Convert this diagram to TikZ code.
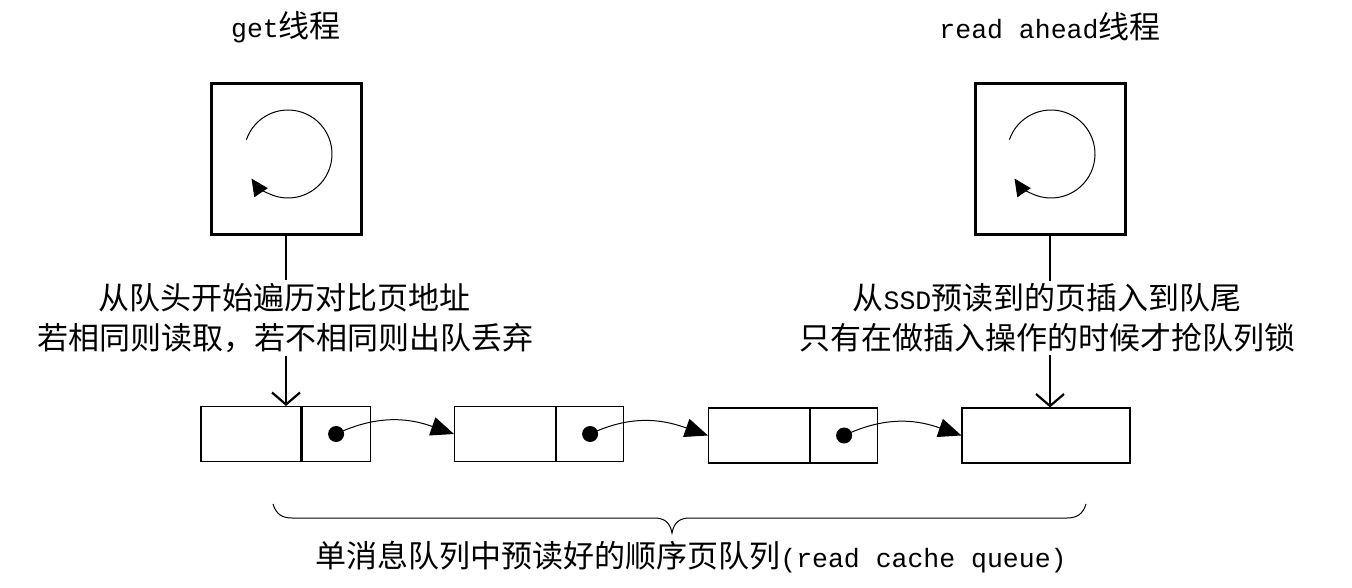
\documentclass[tikz,border=0pt]{standalone}
\usepackage{fontspec}
\setmainfont{Noto Sans CJK SC}
\newfontfamily\latfont{Liberation Mono}
\newcommand\latx[1]{{\latfont\fontsize{26.5}{40}\selectfont #1}}
\usetikzlibrary{arrows.meta}
\tikzset{
  thread/.style={draw, line width=3pt, minimum width=150pt, minimum height=151pt, inner sep=0pt},
  cell/.style={draw, line width=1.1pt, minimum height=55pt, inner sep=0pt},
  dot/.style={circle, fill=black, minimum size=16pt, inner sep=0pt},
  lbl/.style={font=\fontsize{31}{40}\selectfont, align=center, fill=white, inner sep=3pt},
  title/.style={font=\fontsize{31}{40}\selectfont, inner sep=0pt},
  loopline/.style={line width=1pt, -{Triangle[length=17pt,width=16pt]}},
  down/.style={line width=2.2pt, -{Straight Barb[length=12pt,width=28pt]}},
  link/.style={line width=1pt, -{Triangle[length=23pt,width=19pt]}, shorten <=-2pt},
}
\begin{document}
\begin{tikzpicture}[x=1pt,y=-1pt]
\useasboundingbox[fill=white] (0,0) rectangle (1352,588);

% titles
\node[title] (h1) at (286,27) {\latx{get}线程};
\node[title] (h2) at (1050,27) {\latx{read ahead}线程};

% thread boxes
\node[thread] (t1) at (286,159) {};
\node[thread] (t2) at (1050,159) {};
\draw[loopline] ([shift={(2,-5)}]t1.center) ++(-161:44) arc[start angle=-161, end angle=146, radius=44];
\draw[loopline] ([shift={(1,-5)}]t2.center) ++(-161:44) arc[start angle=-161, end angle=146, radius=44];

% list cells
\node[cell, minimum width=100pt] (n1d) at (251,434) {};
\node[cell, minimum width=68pt, anchor=west] (n1p) at (n1d.east) {};
\node[cell, minimum width=101pt] (n2d) at (505,434) {};
\node[cell, minimum width=67pt, anchor=west] (n2p) at (n2d.east) {};
\node[cell, minimum width=101pt] (n3d) at (759,435.5) {};
\node[cell, minimum width=67pt, anchor=west] (n3p) at (n3d.east) {};
\node[cell, minimum width=168pt] (n4) at (1046,435.5) {};

\node[dot] (d1) at (n1p.center) {};
\node[dot] (d2) at (n2p.center) {};
\node[dot] (d3) at (n3p.center) {};

\draw[link] (d1.center) .. controls +(45,-22) and +(-40,-14) .. (n2d.west);
\draw[link] (d2.center) .. controls +(45,-22) and +(-40,-14) .. (n3d.west);
\draw[link] (d3.center) .. controls +(45,-22) and +(-40,-14) .. (n4.west);

% vertical arrows
\draw[down] (t1.south) -- (t1.south |- n1d.north);
\draw[down] (t2.south) -- (t2.south |- n4.north);

% labels over the arrows
\node[lbl] (c1) at (285,318) {从队头开始遍历对比页地址\\若相同则读取，若不相同则出队丢弃};
\node[lbl] (c2) at (1047,318) {从\latx{SSD}预读到的页插入到队尾\\只有在做插入操作的时候才抢队列锁};

% brace
\draw[line width=1pt] (273,504) .. controls (276,514) and (282,518) .. (292,518)
  -- (654,518) .. controls (664,518) and (670,522) .. (672,533)
  .. controls (674,522) and (680,518) .. (690,518)
  -- (1067,518) .. controls (1077,518) and (1083,514) .. (1086,504);

\node[title] (q) at (691,557) {单消息队列中预读好的顺序页队列\latx{(read cache queue)}};
\end{tikzpicture}
\end{document}
